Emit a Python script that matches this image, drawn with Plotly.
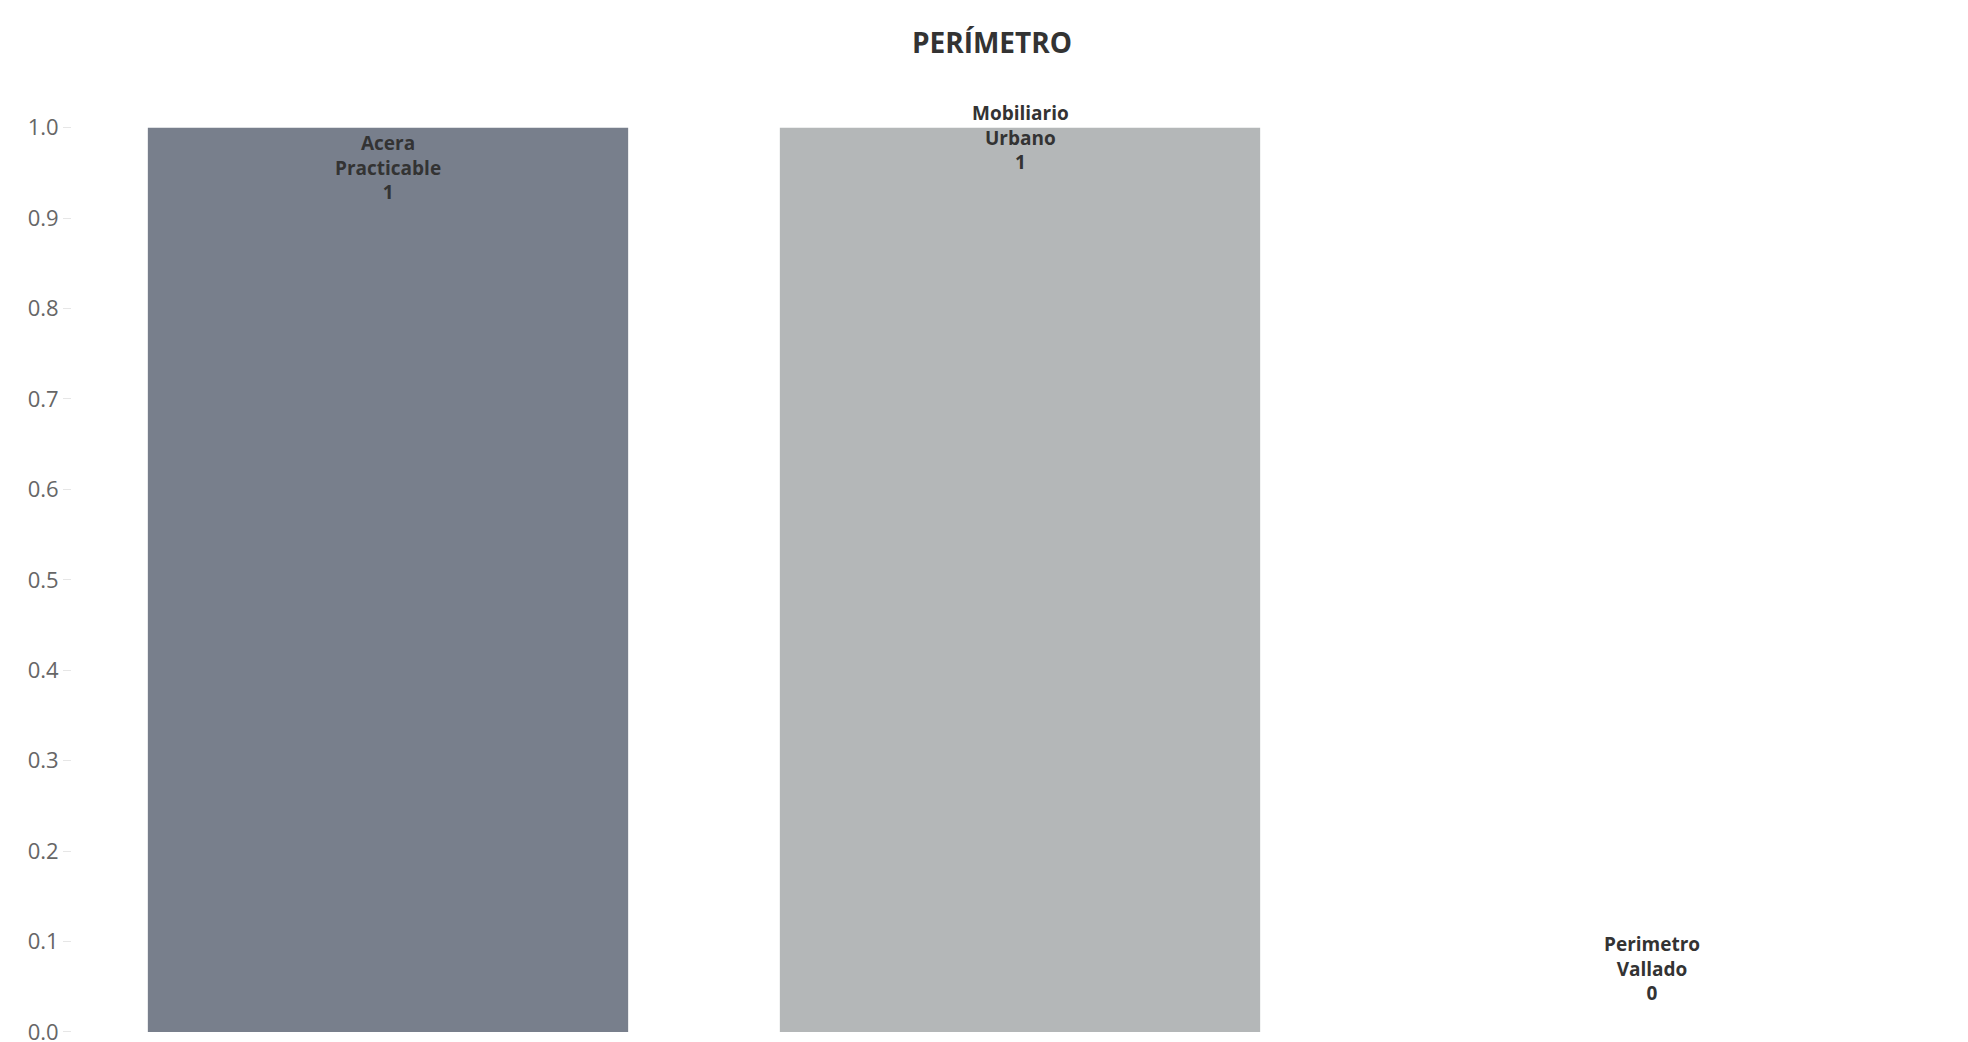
import plotly.graph_objects as go

categories = ["Acera Practicable", "Mobiliario Urbano", "Perimetro Vallado"]
values = [1, 1, 0]
label_text = ["Acera<br>Practicable<br>1", "Mobiliario<br>Urbano<br>1", "Perimetro<br>Vallado<br>0"]
label_top = [1.0, 1.033, 0.114]
colors = ["#787f8c", "#b4b7b8", "#d0d3d4"]

fig = go.Figure(go.Bar(x=categories, y=values, marker_color=colors, width=0.76,
                       marker_line_width=0, hoverinfo="x+y"))

for cat, txt, top in zip(categories, label_text, label_top):
    fig.add_annotation(x=cat, y=top, text="<b>" + txt + "</b>", showarrow=False,
                       yanchor="top", font=dict(family="Open Sans", size=19, color="#333333"))

fig.update_layout(
    width=1968, height=1042,
    paper_bgcolor="white", plot_bgcolor="white",
    margin=dict(l=64, r=8, t=60, b=0),
    title=dict(text="<b>PERÍMETRO</b>", x=0.5, xanchor="center", y=0.966, yanchor="middle",
               font=dict(family="Open Sans", size=28, color="#333333")),
    showlegend=False,
    xaxis=dict(showticklabels=False, showgrid=False, zeroline=False, showline=False,
               range=[-0.5, 2.5]),
    yaxis=dict(range=[-0.02, 1.066], tickvals=[i / 10 for i in range(11)],
               tickformat=".1f", showgrid=False, zeroline=False, showline=False,
               ticks="outside", ticklen=8, tickcolor="#e6e6e6",
               tickfont=dict(family="Open Sans", size=22, color="#666666")),
)

fig.write_html("out.html")
